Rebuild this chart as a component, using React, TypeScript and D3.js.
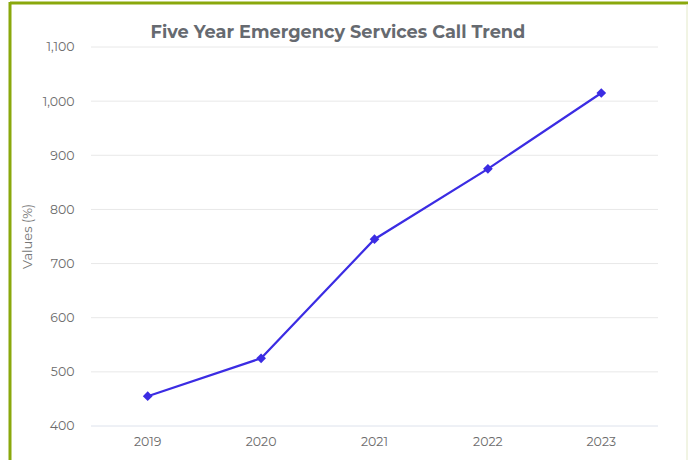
import React from "react";
import * as d3 from "d3";

const categories = ["2019", "2020", "2021", "2022", "2023"];
const values = [455, 525, 745, 875, 1015];
const yTicks = [400, 500, 600, 700, 800, 900, 1000, 1100];
const title = "Five Year Emergency Services Call Trend";
const yAxisTitle = "Values (%)";

const W = 688;
const H = 460;
const margin = { left: 91, right: 30, top: 47, bottom: 34 };

export default function App() {
  const x = d3
    .scaleBand<string>()
    .domain(categories)
    .range([margin.left, W - margin.right])
    .padding(0);
  const y = d3.scaleLinear().domain([400, 1100]).range([H - margin.bottom, margin.top]);
  const fmt = d3.format(",");
  const line = d3
    .line<number>()
    .x((_, i) => (x(categories[i]) as number) + x.bandwidth() / 2)
    .y((d) => y(d));
  const diamond = d3.symbol().type(d3.symbolDiamond2).size(60)();
  const font = "Montserrat, 'Open Sans', Lato, sans-serif";

  return (
    <svg
      width={W}
      height={H}
      style={{ position: "absolute", left: 0, top: 0, background: "#fff", display: "block" }}
    >
      <rect x={0} y={0} width={W} height={H} fill="#fff" />
      <line x1={10} x2={W} y1={3} y2={3} stroke="#8aa80c" strokeWidth={3} />
      <line x1={10} x2={10} y1={2} y2={H} stroke="#8aa80c" strokeWidth={3} />
      <line x1={687} x2={687} y1={4} y2={H} stroke="#e3e9c8" strokeWidth={1} />

      <text
        x={338}
        y={37.5}
        textAnchor="middle"
        fontFamily={font}
        fontWeight={700}
        fontSize={17.7}
        fill="#666a70"
      >
        {title}
      </text>

      {yTicks.map((t) => (
        <g key={t}>
          <line
            x1={margin.left}
            x2={W - margin.right}
            y1={y(t)}
            y2={y(t)}
            stroke={t === 400 ? "#dde2ec" : "#e8e8e8"}
            strokeWidth={1}
          />
          <text
            x={74.5}
            y={y(t)}
            dy="0.35em"
            textAnchor="end"
            fontFamily={font}
            fontSize={12.5}
            fill="#6b6b6b"
          >
            {fmt(t)}
          </text>
        </g>
      ))}

      {categories.map((c) => (
        <text
          key={c}
          x={(x(c) as number) + x.bandwidth() / 2}
          y={446}
          textAnchor="middle"
          fontFamily={font}
          fontSize={12.5}
          fill="#6b6b6b"
        >
          {c}
        </text>
      ))}

      <text
        transform={`translate(32, ${(y(400) + y(1100)) / 2}) rotate(-90)`}
        textAnchor="middle"
        fontFamily={font}
        fontSize={13}
        fill="#777"
      >
        {yAxisTitle}
      </text>

      <path d={line(values) || ""} fill="none" stroke="#3b2ce3" strokeWidth={2.2} />
      {values.map((v, i) => (
        <path
          key={i}
          d={diamond || ""}
          transform={`translate(${(x(categories[i]) as number) + x.bandwidth() / 2}, ${y(v)})`}
          fill="#3b2ce3"
        />
      ))}
    </svg>
  );
}
